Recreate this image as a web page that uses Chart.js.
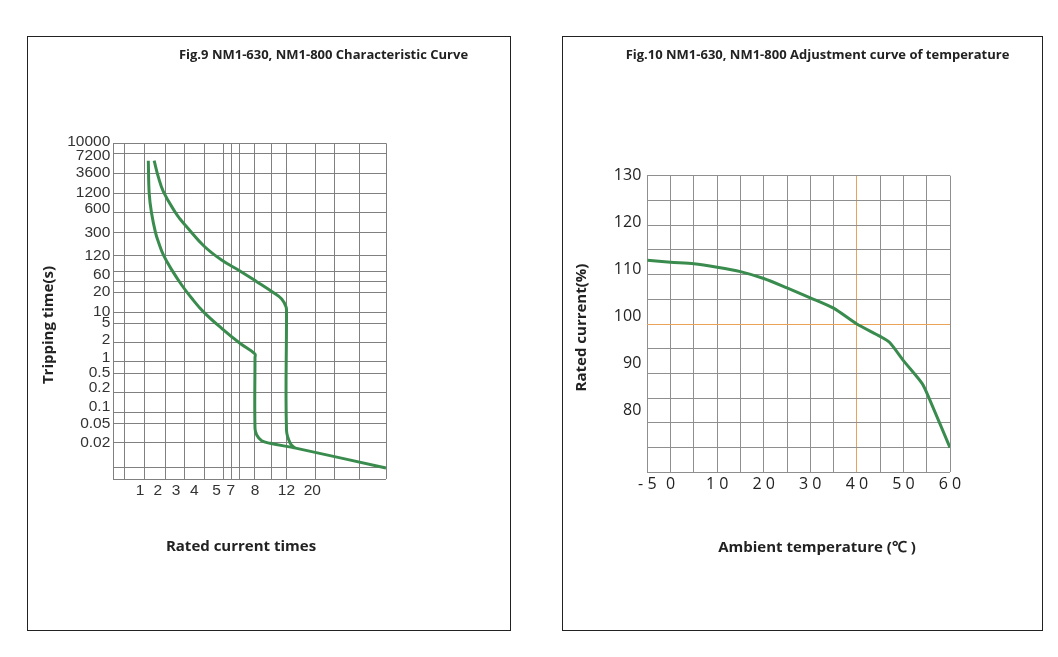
<!DOCTYPE html>
<html>
<head>
<meta charset="utf-8">
<script src="https://cdn.jsdelivr.net/npm/chart.js@4"></script>
<style>
html,body{margin:0;padding:0;background:#fff;width:1058px;height:657px;overflow:hidden}
.frame{position:absolute;border:1px solid #222;box-sizing:border-box;background:#fff}
.frame canvas{position:absolute;left:0;top:0}
</style>
</head>
<body>
<div class="frame" style="left:27px;top:36px;width:484px;height:595px"><canvas id="c1" width="482" height="593"></canvas></div>
<div class="frame" style="left:562px;top:36px;width:481px;height:595px"><canvas id="c2" width="479" height="593"></canvas></div>
<script>
// ---------------- DATA: Fig.9 characteristic curve ----------------
const fig9Title = 'Fig.9 NM1-630, NM1-800 Characteristic Curve';
const fig9XTitle = 'Rated current times';
const fig9YTitle = 'Tripping time(s)';
const xTickValues = [1, 2, 3, 4, 5, 7, 8, 12, 20];            // rated current multiples (labels)
const yTickValues = [10000, 7200, 3600, 1200, 600, 300, 120, 60, 20, 10, 5, 2, 1, 0.5, 0.2, 0.1, 0.05, 0.02]; // seconds (labels)
// lower curve (instantaneous trip at 8x)
const curveA_x = [1.47, 1.52, 1.65, 1.88, 2.04, 2.31, 2.77, 3.31, 3.86, 4.40, 5.71, 7.38, 8, 8, 8, 8.22, 8.85, 9.9, 15.2, 40];
const curveA_t = [5570, 1200, 590, 297, 208, 125, 64, 29.6, 16.5, 10.4, 3.9, 1.91, 1.3, 1.15, 0.0395, 0.0288, 0.022, 0.0197, 0.0171, 0.0098];
// upper curve (instantaneous trip at 12x)
const curveB_x = [1.80, 2.03, 2.31, 2.95, 3.22, 3.58, 4.43, 5.7, 7.38, 8.22, 10.32, 11.39, 11.94, 12, 12, 13.1, 14.6];
const curveB_t = [5570, 2990, 1320, 605, 478, 368, 178, 100, 61, 35, 20.1, 16.1, 12.3, 10.3, 0.0365, 0.0199, 0.0171];

// ---------------- DATA: Fig.10 temperature adjustment ----------------
const fig10Title = 'Fig.10 NM1-630, NM1-800 Adjustment curve of temperature';
const fig10XTitle = 'Ambient temperature (\u2103 )';
const fig10YTitle = 'Rated current(%)';
const tempC = [-5, 0, 5, 10, 15, 20, 25, 30, 35, 40, 45, 47, 50, 54, 55.5, 60];
const ratedPct = [112.9, 112.5, 112.2, 111.5, 110.6, 109.2, 107.3, 105.3, 103.2, 100, 97.5, 96.3, 92.6, 88, 85, 75];
const tempTickLabels = [-5, 0, 10, 20, 30, 40, 50, 60];
const pctTickLabels = [80, 90, 100, 110, 120, 130];

// ---------------- LAYOUT (positions of the irregular printed grid / labels) ----------------
const xTickFrac = [0.0979, 0.1628, 0.2299, 0.2970, 0.3791, 0.4305, 0.5196, 0.6351, 0.7297];
const xGridFrac = [0, 0.0403, 0.1162, 0.1896, 0.2604, 0.3326, 0.4034, 0.4327, 0.4620, 0.5196, 0.5783, 0.6359, 0.7422, 0.8104, 0.9021, 1];
const yTickFrac = [1, 0.9702, 0.9107, 0.8512, 0.7946, 0.7339, 0.6646, 0.6190, 0.5554, 0.4958, 0.4643, 0.4086, 0.3512, 0.3134, 0.2589, 0.1994, 0.1667, 0.1089];
const yLabelFrac = [1.0048, 0.9631, 0.9116, 0.8530, 0.8045, 0.7330, 0.6646, 0.6080, 0.5574, 0.4979, 0.4652, 0.4146, 0.3610, 0.3164, 0.2717, 0.2152, 0.1646, 0.1089];
const yExtraGrid = [[35, 0.5881], [0.01, 0.0345], [0.005, 0]];
const xBounds = [[0, 0], [40, 1]];

const GREEN = '#3a8c4e', ORANGE = '#e9a35b';

// piecewise scale reproducing the printed, non-uniform axis
class PiecewiseScale extends Chart.Scale {
  _t(v) { return this.options.logInterp ? Math.log10(v) : v; }
  _it(v) { return this.options.logInterp ? Math.pow(10, v) : v; }
  determineDataLimits() {
    const a = this.options.anchors;
    this.min = a[0][0]; this.max = a[a.length - 1][0];
  }
  buildTicks() {
    const o = this.options;
    if (o.gridFractions) return o.gridFractions.map(f => ({ value: this._valueForFrac(f) }));
    return o.tickValues.map(v => ({ value: v }));
  }
  _fracForValue(v) {
    const a = this.options.anchors;
    let i = 1;
    while (i < a.length - 1 && v > a[i][0]) i++;
    const v0 = a[i - 1][0], f0 = a[i - 1][1], v1 = a[i][0], f1 = a[i][1];
    return f0 + (this._t(v) - this._t(v0)) / (this._t(v1) - this._t(v0)) * (f1 - f0);
  }
  _valueForFrac(f) {
    const a = this.options.anchors;
    let i = 1;
    while (i < a.length - 1 && f > a[i][1]) i++;
    const v0 = a[i - 1][0], f0 = a[i - 1][1], v1 = a[i][0], f1 = a[i][1];
    return this._it(this._t(v0) + (f - f0) / (f1 - f0) * (this._t(v1) - this._t(v0)));
  }
  getPixelForValue(v) { return this.getPixelForDecimal(this._fracForValue(v)); }
  getValueForPixel(p) { return this._valueForFrac(this.getDecimalForPixel(p)); }
  getLabelForValue(v) { return String(v); }
}
PiecewiseScale.id = 'piecewise';
PiecewiseScale.defaults = {};
Chart.register(PiecewiseScale);

function textPlugin(id, items) {
  return {
    id: id,
    afterDraw(chart) {
      const ctx = chart.ctx;
      items.forEach(it => {
        ctx.save();
        ctx.font = it.font;
        ctx.fillStyle = it.color || '#222';
        ctx.textAlign = 'center';
        ctx.textBaseline = 'middle';
        ctx.translate(it.x, it.y);
        if (it.rotate) ctx.rotate(it.rotate);
        ctx.fillText(it.text, 0, 0);
        ctx.restore();
      });
    }
  };
}

const xAnchors = [xBounds[0]].concat(xTickValues.map((v, i) => [v, xTickFrac[i]])).concat([xBounds[1]]);
const yAnchors = yTickValues.map((v, i) => [v, yTickFrac[i]]).concat(yExtraGrid).sort((p, q) => p[0] - q[0]);
const yLabelAnchors = yTickValues.map((v, i) => [v, yLabelFrac[i]]).concat([[0.005, 0]]).sort((p, q) => p[0] - q[0]);
const yGridValues = yAnchors.map(p => p[0]);

const pts = (xs, ys) => xs.map((x, i) => ({ x: x, y: ys[i] }));
const tickFont9 = { family: "'Liberation Sans', Arial, sans-serif", size: 15.5 };

// ---------------- Chart 1 ----------------
new Chart(document.getElementById('c1'), {
  type: 'line',
  data: {
    datasets: [
      { data: pts(curveA_x, curveA_t), borderColor: GREEN, borderWidth: 3, pointRadius: 0, tension: 0.4, fill: false, xAxisID: 'x', yAxisID: 'y' },
      { data: pts(curveB_x, curveB_t), borderColor: GREEN, borderWidth: 3, pointRadius: 0, tension: 0.4, fill: false, xAxisID: 'x', yAxisID: 'y' }
    ]
  },
  options: {
    responsive: false, animation: false, devicePixelRatio: 1,
    layout: { padding: { left: 0, right: 124, top: 106.3, bottom: 120.7 } },
    plugins: { legend: { display: false }, tooltip: { enabled: false }, title: { display: false } },
    scales: {
      x: {
        type: 'piecewise', position: 'bottom', anchors: xAnchors, tickValues: xTickValues,
        grid: { display: false, drawTicks: false }, border: { display: false },
        ticks: { autoSkip: false, maxRotation: 0, padding: 2, color: '#333', font: tickFont9, callback: v => String(v) },
        afterFit: s => { s.height = 30; }
      },
      xg: {
        type: 'piecewise', position: 'bottom', anchors: xAnchors, gridFractions: xGridFrac,
        grid: { display: true, color: '#808080', lineWidth: 1, drawTicks: false }, border: { display: false },
        ticks: { display: false },
        afterFit: s => { s.height = 0; }
      },
      y: {
        type: 'piecewise', position: 'left', anchors: yAnchors, tickValues: yGridValues, logInterp: true,
        grid: { display: true, color: '#808080', lineWidth: 1, drawTicks: false }, border: { display: false },
        ticks: { display: false },
        afterFit: s => { s.width = 0; }
      },
      yl: {
        type: 'piecewise', position: 'left', anchors: yLabelAnchors, tickValues: yTickValues, logInterp: true,
        grid: { display: false, drawTicks: false }, border: { display: false },
        ticks: { autoSkip: false, padding: 3, color: '#333', font: tickFont9, callback: v => String(v) },
        afterFit: s => { s.width = 85.3; }
      }
    }
  },
  plugins: [textPlugin('fig9text', [
    { text: fig9Title, font: "bold 13px 'Open Sans'", x: 295.5, y: 18 },
    { text: fig9XTitle, font: "bold 15px 'Open Sans'", x: 213, y: 510 },
    { text: fig9YTitle, font: "bold 15px 'Open Sans'", x: 20.3, y: 288, rotate: -Math.PI / 2 }
  ])]
});

// ---------------- Chart 2 ----------------
const spaced = v => String(v).split('').join(' ');
new Chart(document.getElementById('c2'), {
  type: 'line',
  data: {
    datasets: [
      { data: pts(tempC, ratedPct), borderColor: GREEN, borderWidth: 3, pointRadius: 0, tension: 0.25, fill: false, xAxisID: 'x', yAxisID: 'y' }
    ]
  },
  options: {
    responsive: false, animation: false, devicePixelRatio: 1,
    layout: { padding: { left: 0, right: 92, top: 138.7, bottom: 127.7 } },
    plugins: { legend: { display: false }, tooltip: { enabled: false }, title: { display: false } },
    scales: {
      x: {
        type: 'linear', position: 'bottom', min: -5, max: 60,
        grid: { color: c => (c.tick && c.tick.value === 40 ? ORANGE : '#8f8f8f'), lineWidth: 1, drawTicks: false },
        border: { display: false },
        ticks: { stepSize: 5, autoSkip: false, maxRotation: 0, padding: 3, color: '#222',
          font: { family: "'Open Sans', sans-serif", size: 16 },
          callback: v => (tempTickLabels.indexOf(v) >= 0 ? spaced(v) : '') },
        afterFit: s => { s.height = 30; }
      },
      y: {
        type: 'linear', position: 'left', min: 70, max: 130,
        grid: { color: c => (c.tick && c.tick.value === 100 ? ORANGE : '#8f8f8f'), lineWidth: 1, drawTicks: false },
        border: { display: false },
        ticks: { stepSize: 5, display: false },
        afterFit: s => { s.width = 0; }
      },
      yl: {
        type: 'linear', position: 'left', min: 66.9, max: 130,
        grid: { display: false, drawTicks: false }, border: { display: false },
        afterBuildTicks: s => { s.ticks = pctTickLabels.map(v => ({ value: v })); },
        ticks: { autoSkip: false, padding: 6, color: '#222', font: { family: "'Open Sans', sans-serif", size: 16 }, callback: v => String(v) },
        afterFit: s => { s.width = 84.3; }
      }
    }
  },
  plugins: [textPlugin('fig10text', [
    { text: fig10Title, font: "bold 13px 'Open Sans'", x: 254.5, y: 18 },
    { text: fig10XTitle, font: "bold 15px 'Open Sans'", x: 254, y: 511 },
    { text: fig10YTitle, font: "bold 15px 'Open Sans'", x: 19, y: 290.5, rotate: -Math.PI / 2 }
  ])]
});
</script>
</body>
</html>
